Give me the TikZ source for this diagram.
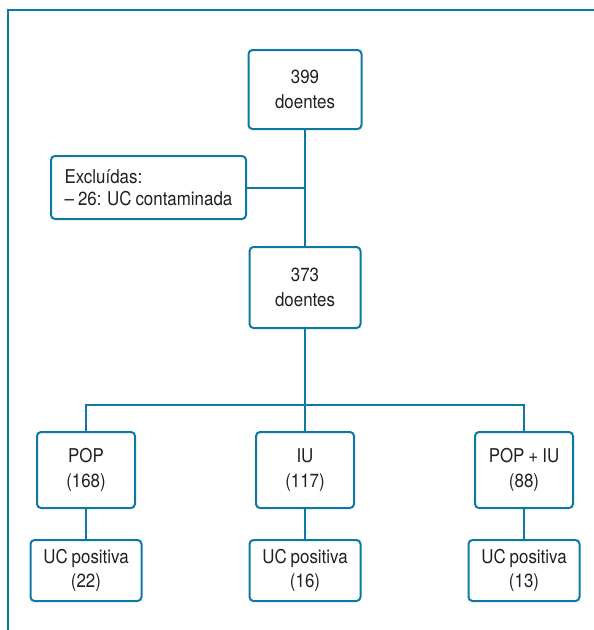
\documentclass[tikz,border=0pt]{standalone}
\usepackage{fontspec}
\setmainfont{TeX Gyre Heros}[FakeStretch=0.89, WordSpace=0.85]
\usetikzlibrary{positioning}

\definecolor{flowblue}{HTML}{0E78A5}
\definecolor{flowtext}{HTML}{231F20}

\begin{document}
\begin{tikzpicture}[
            x=1pt, y=1pt,
            node distance=30pt and 119pt,
            box/.style={draw=flowblue, line width=2pt, rounded corners=4pt, minimum width=98pt, minimum height=76pt, align=center, text=flowtext, font=\fontsize{19}{24.5}\selectfont},
            ucbox/.style={box, minimum width=111pt, minimum height=61pt},
            link/.style={draw=flowblue, line width=2pt}
        ]
            \useasboundingbox (0,0) rectangle (594,-630);
            % Frame
            \draw[link] (8,-630) |- (594,-10);

            % Main column
            \node[box, minimum width=113pt, minimum height=79pt] (total) at (305,-89.5) {399\\doentes};
            \node[box, minimum width=111pt, minimum height=81pt, below=116pt of total] (incl) {373\\doentes};
            \node[box, minimum width=195pt, minimum height=63pt, align=left, font=\fontsize{19}{22}\selectfont] (excl) at (148.5,-187.5) {Excluídas:\\– 26: UC contaminada};

            \draw[link] (total) -- (incl);
            \draw[link] (excl.east) -- (excl.east -| total);

            % Row 2: groups
            \node[box, below=102pt of incl] (iu) {IU\\(117)};
            \node[box, left=of iu] (pop) {POP\\(168)};
            \node[box, right=of iu] (popiu) {POP + IU\\(88)};

            \draw[link] (incl) -- (iu);
            \draw[link] (pop.north) -- ++(0,26) -| (popiu.north);

            % Row 3: positive cultures
            \node[ucbox, below=of pop] (ucpop) {UC positiva\\(22)};
            \node[ucbox, below=of iu] (uciu) {UC positiva\\(16)};
            \node[ucbox, below=of popiu] (ucpopiu) {UC positiva\\(13)};

            \draw[link] (pop) -- (ucpop);
            \draw[link] (iu) -- (uciu);
            \draw[link] (popiu) -- (ucpopiu);
        \end{tikzpicture}
\end{document}
